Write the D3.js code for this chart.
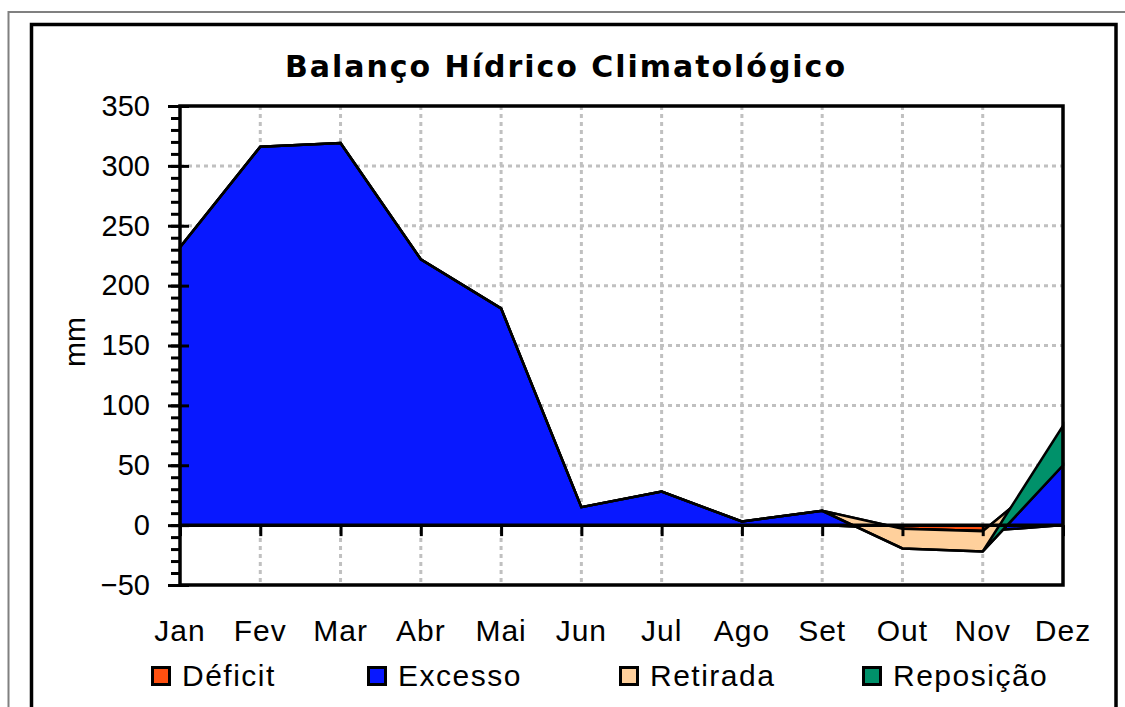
<!DOCTYPE html>
<html>
<head>
<meta charset="utf-8">
<script src="https://cdn.jsdelivr.net/npm/d3@7"></script>
<style>
  body { margin: 0; background: #fff; }
  svg { display: block; font-family: "Liberation Sans", Arial, sans-serif; }
</style>
</head>
<body>
<div id="chart"></div>
<script>
// monthly values (mm)
let months = ["Jan", "Fev", "Mar", "Abr", "Mai", "Jun", "Jul", "Ago", "Set", "Out", "Nov", "Dez"]
let deficit   = [0, 0, 0, 0, 0, 0, 0, 0, 0, -3, -5, 0]
let excesso   = [232, 316, 319, 222, 181, 15, 28, 3, 12, 0, 0, 50]
let retirada  = [0, 0, 0, 0, 0, 0, 0, 0, 0, -16.5, -17, 0]
let reposicao = [0, 0, 0, 0, 0, 0, 0, 0, 0, 0, 0, 33]

let yTicks = [-50, 0, 50, 100, 150, 200, 250, 300, 350]
let seriesKeys = ["deficit", "excesso", "retirada", "reposicao"]
let seriesNames = ["Déficit", "Excesso", "Retirada", "Reposição"]

let colors = {
  deficit: "#ff5010",
  excesso: "#0818ff",
  retirada: "#ffd09c",
  reposicao: "#00916a"
}

// table for d3.stack, built from the arrays above
let table = months.map(function(m, i) {
  return { month: m, deficit: deficit[i], excesso: excesso[i],
           retirada: retirada[i], reposicao: reposicao[i] }
})

let width = 1125, height = 707
let plotLeft = 180, plotRight = 1063, plotTop = 106, plotBottom = 585

let svg = d3.select("#chart").append("svg")
  .attr("width", width)
  .attr("height", height)

svg.append("rect").attr("width", width).attr("height", height).attr("fill", "#fff")

// outer frames
svg.append("rect")
  .attr("x", 8.5).attr("y", 12).attr("width", 1140).attr("height", 720)
  .attr("fill", "none").attr("stroke", "#808080").attr("stroke-width", 2)
svg.append("rect")
  .attr("x", 31.5).attr("y", 24.5).attr("width", 1084.5).attr("height", 720)
  .attr("fill", "none").attr("stroke", "#000").attr("stroke-width", 3.5)

// title
svg.append("text")
  .attr("x", 565).attr("y", 77)
  .attr("text-anchor", "middle")
  .attr("font-family", "'DejaVu Sans', sans-serif")
  .attr("font-weight", "bold")
  .attr("font-size", 30)
  .attr("textLength", 560)
  .attr("lengthAdjust", "spacing")
  .text("Balanço Hídrico Climatológico")

let x = d3.scalePoint().domain(months).range([plotLeft, plotRight])
let y = d3.scaleLinear().domain([-50, 350]).range([plotBottom, plotTop])

// gridlines
svg.append("g").selectAll("line")
  .data(yTicks.filter(d => d > 0 && d < 350))
  .enter().append("line")
  .attr("x1", plotLeft).attr("x2", plotRight)
  .attr("y1", d => y(d)).attr("y2", d => y(d))
  .attr("stroke", "#c0c0c0").attr("stroke-width", 3).attr("stroke-dasharray", "4,4")

svg.append("g").selectAll("line")
  .data(months.slice(1, -1))
  .enter().append("line")
  .attr("x1", d => x(d)).attr("x2", d => x(d))
  .attr("y1", plotTop).attr("y2", plotBottom)
  .attr("stroke", "#c0c0c0").attr("stroke-width", 3).attr("stroke-dasharray", "4,4")

// stacked areas (same stacking as the spreadsheet: plain running sum)
let stack = d3.stack().keys(seriesKeys).offset(d3.stackOffsetNone)
let layers = stack(table)

let area = d3.area()
  .x(d => x(d.data.month))
  .y0(d => y(d[0]))
  .y1(d => y(d[1]))

svg.append("g").selectAll("path")
  .data(layers)
  .enter().append("path")
  .attr("d", area)
  .attr("fill", d => colors[d.key])
  .attr("stroke", "#000")
  .attr("stroke-width", 2.5)
  .attr("stroke-linejoin", "miter")

// zero line with month ticks
svg.append("g")
  .attr("transform", "translate(0," + y(0) + ")")
  .call(d3.axisBottom(x).tickSize(11).tickFormat(""))
  .call(g => g.select(".domain").remove())
  .call(g => g.selectAll("line").attr("stroke-width", 3))

svg.append("line")
  .attr("x1", plotLeft).attr("x2", plotRight)
  .attr("y1", y(0)).attr("y2", y(0))
  .attr("stroke", "#000").attr("stroke-width", 3.5)

// plot border
svg.append("rect")
  .attr("x", plotLeft).attr("y", plotTop)
  .attr("width", plotRight - plotLeft).attr("height", plotBottom - plotTop)
  .attr("fill", "none").attr("stroke", "#000").attr("stroke-width", 3.5)

// y axis: minor ticks, major ticks with labels, inner part of major ticks
svg.append("g")
  .attr("transform", "translate(" + plotLeft + ",0)")
  .call(d3.axisLeft(y).tickValues(d3.range(-50, 351, 10)).tickSize(9).tickFormat(""))
  .call(g => g.select(".domain").remove())
  .call(g => g.selectAll("line").attr("stroke-width", 3))

svg.append("g")
  .attr("transform", "translate(" + plotLeft + ",0)")
  .call(d3.axisLeft(y).tickValues(yTicks).tickSize(12).tickPadding(18))
  .call(g => g.select(".domain").remove())
  .call(g => g.selectAll("line").attr("stroke-width", 3))
  .call(g => g.selectAll("text")
    .style("font-size", "29px")
    .style("font-family", "'Liberation Sans', Arial, sans-serif"))

svg.append("g")
  .attr("transform", "translate(" + plotLeft + ",0)")
  .call(d3.axisRight(y).tickValues(yTicks).tickSize(9).tickFormat(""))
  .call(g => g.select(".domain").remove())
  .call(g => g.selectAll("line").attr("stroke-width", 3))

// y axis title
svg.append("text")
  .attr("transform", "translate(85,342) rotate(-90)")
  .attr("text-anchor", "middle")
  .attr("font-size", 30)
  .text("mm")

// month labels
svg.append("g").selectAll("text")
  .data(months)
  .enter().append("text")
  .attr("x", d => x(d))
  .attr("y", 641)
  .attr("text-anchor", "middle")
  .attr("font-size", 30)
  .attr("letter-spacing", 1)
  .text(d => d)

// legend
let legendX = [151, 367, 619, 862]
let legend = svg.append("g").selectAll("g")
  .data(seriesKeys)
  .enter().append("g")
  .attr("transform", (d, i) => "translate(" + legendX[i] + ",666)")

legend.append("rect")
  .attr("x", 1.5).attr("y", 1.5).attr("width", 17).attr("height", 17)
  .attr("fill", d => colors[d])
  .attr("stroke", "#000").attr("stroke-width", 3)

legend.append("text")
  .attr("x", 31).attr("y", 20)
  .attr("font-size", 30)
  .attr("letter-spacing", 1.5)
  .text((d, i) => seriesNames[i])
</script>
</body>
</html>
